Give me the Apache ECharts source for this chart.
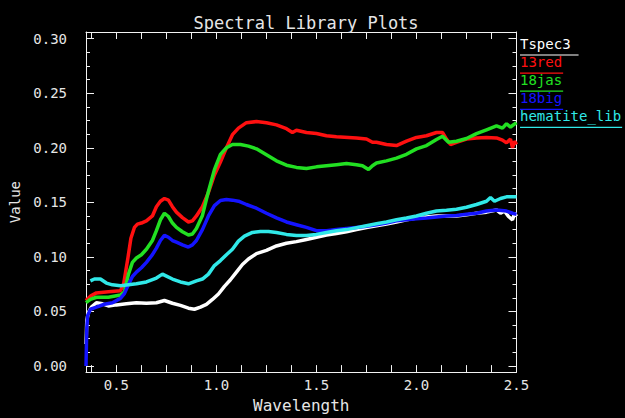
<!DOCTYPE html>
<html>
<head>
<meta charset="utf-8">
<script src="https://cdn.jsdelivr.net/npm/echarts@6/dist/echarts.min.js"></script>
<style>
  html, body { margin: 0; padding: 0; background: #000; }
  #chart { width: 625px; height: 418px; }
</style>
</head>
<body>
<div id="chart"></div>
<script>
// ---- axis ranges and ticks ----
const X_MIN = 0.348, X_MAX = 2.5;
const Y_MIN = -0.0056, Y_MAX = 0.3061;
const xMajorTicks = [0.5, 1.0, 1.5, 2.0, 2.5];
const xMinorTicks = [0.375, 0.625, 0.75, 0.875, 1.125, 1.25, 1.375, 1.625, 1.75, 1.875, 2.125, 2.25, 2.375];
const yMajorTicks = [0.00, 0.05, 0.10, 0.15, 0.20, 0.25, 0.30];
const yMinorTicks = [0.0125, 0.025, 0.0375, 0.0625, 0.075, 0.0875, 0.1125, 0.125, 0.1375,
  0.1625, 0.175, 0.1875, 0.2125, 0.225, 0.2375, 0.2625, 0.275, 0.2875];

// ---- spectra ----
const seriesNames = ['Tspec3', '13red', '18jas', '18big', 'hematite_lib'];
const seriesColors = ['#ffffff', '#ff1010', '#22e022', '#1414ff', '#30e8e8'];

const tspec3Wl = [0.348, 0.350, 0.352, 0.36, 0.375, 0.40, 0.43, 0.46, 0.50, 0.55, 0.60, 0.65, 0.70, 0.74,
  0.78, 0.82, 0.86, 0.89, 0.92, 0.95, 0.98, 1.01, 1.04, 1.07, 1.10, 1.13, 1.16, 1.20, 1.25, 1.30, 1.35,
  1.40, 1.45, 1.50, 1.55, 1.60, 1.65, 1.70, 1.75, 1.80, 1.85, 1.90, 1.95, 2.00, 2.05, 2.10, 2.15, 2.20,
  2.25, 2.30, 2.35, 2.40, 2.42, 2.44, 2.46, 2.48, 2.49, 2.50];
const tspec3Val = [0.020, 0.030, 0.042, 0.049, 0.054, 0.058, 0.057, 0.055, 0.056, 0.057, 0.058, 0.0575,
  0.058, 0.060, 0.0575, 0.0555, 0.053, 0.052, 0.054, 0.0565, 0.061, 0.066, 0.073, 0.079, 0.086, 0.093,
  0.098, 0.103, 0.106, 0.110, 0.1125, 0.114, 0.116, 0.118, 0.120, 0.1215, 0.123, 0.125, 0.127, 0.1285,
  0.130, 0.132, 0.134, 0.1355, 0.1365, 0.1375, 0.1375, 0.1375, 0.1385, 0.140, 0.141, 0.143, 0.140,
  0.142, 0.137, 0.134, 0.140, 0.137];

const red13Wl = [0.348, 0.37, 0.40, 0.46, 0.52, 0.535, 0.5575, 0.5725, 0.59, 0.605, 0.625, 0.65, 0.68,
  0.70, 0.72, 0.74, 0.76, 0.78, 0.80, 0.83, 0.86, 0.88, 0.90, 0.93, 0.96, 0.99, 1.02, 1.05, 1.08, 1.11,
  1.15, 1.20, 1.25, 1.30, 1.35, 1.38, 1.40, 1.45, 1.50, 1.55, 1.60, 1.70, 1.75, 1.78, 1.80, 1.85, 1.90,
  1.95, 2.00, 2.05, 2.10, 2.13, 2.15, 2.17, 2.20, 2.25, 2.30, 2.35, 2.40, 2.43, 2.45, 2.47, 2.48, 2.49, 2.50];
const red13Val = [0.060, 0.064, 0.067, 0.068, 0.069, 0.074, 0.099, 0.117, 0.127, 0.130, 0.131, 0.133,
  0.1375, 0.146, 0.151, 0.1535, 0.152, 0.146, 0.141, 0.136, 0.132, 0.133, 0.1375, 0.146, 0.159, 0.175,
  0.187, 0.200, 0.212, 0.218, 0.223, 0.224, 0.223, 0.221, 0.2175, 0.214, 0.216, 0.214, 0.213, 0.211,
  0.210, 0.209, 0.208, 0.205, 0.205, 0.203, 0.202, 0.206, 0.2095, 0.211, 0.214, 0.214, 0.208, 0.203,
  0.205, 0.208, 0.209, 0.2095, 0.209, 0.207, 0.2045, 0.208, 0.200, 0.206, 0.203];

const jas18Wl = [0.348, 0.37, 0.40, 0.46, 0.52, 0.54, 0.56, 0.58, 0.60, 0.625, 0.65, 0.68, 0.70, 0.72,
  0.74, 0.76, 0.78, 0.80, 0.83, 0.86, 0.88, 0.90, 0.93, 0.96, 0.99, 1.02, 1.05, 1.08, 1.12, 1.16, 1.20,
  1.25, 1.30, 1.35, 1.40, 1.45, 1.50, 1.55, 1.60, 1.65, 1.70, 1.73, 1.76, 1.78, 1.80, 1.85, 1.90, 1.95,
  2.00, 2.05, 2.10, 2.13, 2.16, 2.20, 2.25, 2.30, 2.35, 2.40, 2.43, 2.45, 2.47, 2.50];
const jas18Val = [0.058, 0.061, 0.063, 0.063, 0.065, 0.068, 0.084, 0.095, 0.099, 0.102, 0.107, 0.115,
  0.124, 0.134, 0.140, 0.137, 0.131, 0.127, 0.123, 0.120, 0.121, 0.126, 0.138, 0.160, 0.180, 0.194,
  0.200, 0.203, 0.203, 0.2015, 0.199, 0.1935, 0.188, 0.184, 0.182, 0.181, 0.1825, 0.1835, 0.1845,
  0.1855, 0.1845, 0.1835, 0.180, 0.1835, 0.186, 0.188, 0.1905, 0.194, 0.199, 0.202, 0.2075, 0.2105,
  0.205, 0.206, 0.2085, 0.213, 0.2165, 0.220, 0.218, 0.222, 0.219, 0.223];

const big18Wl = [0.348, 0.352, 0.356, 0.37, 0.40, 0.44, 0.48, 0.52, 0.54, 0.56, 0.58, 0.60, 0.625, 0.65,
  0.68, 0.70, 0.72, 0.74, 0.76, 0.78, 0.80, 0.83, 0.86, 0.88, 0.90, 0.93, 0.96, 0.99, 1.02, 1.05, 1.08,
  1.11, 1.15, 1.20, 1.25, 1.30, 1.35, 1.40, 1.45, 1.50, 1.55, 1.60, 1.65, 1.70, 1.75, 1.80, 1.85, 1.90,
  1.95, 2.00, 2.05, 2.10, 2.15, 2.20, 2.25, 2.30, 2.35, 2.40, 2.45, 2.48, 2.50];
const big18Val = [0.000, 0.035, 0.046, 0.052, 0.054, 0.0566, 0.058, 0.062, 0.0664, 0.0744, 0.082, 0.086,
  0.090, 0.095, 0.102, 0.108, 0.115, 0.1197, 0.118, 0.115, 0.1135, 0.111, 0.109, 0.111, 0.115, 0.125,
  0.1375, 0.147, 0.1517, 0.1526, 0.152, 0.151, 0.148, 0.1446, 0.140, 0.1357, 0.132, 0.1295, 0.127,
  0.124, 0.124, 0.125, 0.126, 0.127, 0.128, 0.1295, 0.131, 0.133, 0.134, 0.135, 0.1357, 0.1366, 0.1375,
  0.138, 0.139, 0.140, 0.142, 0.143, 0.142, 0.140, 0.139];

const hematiteWl = [0.37, 0.39, 0.42, 0.45, 0.48, 0.52, 0.56, 0.60, 0.65, 0.70, 0.73, 0.75, 0.78, 0.82,
  0.86, 0.90, 0.93, 0.96, 0.99, 1.02, 1.05, 1.08, 1.11, 1.14, 1.18, 1.22, 1.26, 1.30, 1.35, 1.40, 1.45,
  1.50, 1.55, 1.60, 1.65, 1.70, 1.75, 1.80, 1.85, 1.90, 1.95, 2.00, 2.05, 2.10, 2.15, 2.20, 2.25, 2.30,
  2.35, 2.37, 2.39, 2.42, 2.45, 2.50];
const hematiteVal = [0.078, 0.0797, 0.0797, 0.076, 0.0744, 0.0735, 0.0744, 0.0753, 0.077, 0.0806,
  0.0842, 0.0824, 0.0797, 0.077, 0.0753, 0.078, 0.0797, 0.0842, 0.092, 0.0966, 0.102, 0.107, 0.1144,
  0.119, 0.1224, 0.1233, 0.1233, 0.1224, 0.1206, 0.1197, 0.1197, 0.1206, 0.1224, 0.124, 0.125, 0.1268,
  0.1286, 0.1304, 0.132, 0.134, 0.1357, 0.1375, 0.140, 0.142, 0.1428, 0.1437, 0.1455, 0.148, 0.151,
  0.1544, 0.151, 0.1535, 0.155, 0.155];

const spectra = [
  [tspec3Wl, tspec3Val],
  [red13Wl, red13Val],
  [jas18Wl, jas18Val],
  [big18Wl, big18Val],
  [hematiteWl, hematiteVal]
];

// ---- styling ----
const FONT = '"DejaVu Sans Mono", monospace';
const TEXT_COLOR = '#e6e6e6';
const AXIS_COLOR = '#f2f2f2';
const GRID = { left: 86, right: 108.5, top: 32, bottom: 35 };

function pairUp(xs, ys) {
  return xs.map((x, i) => [x, ys[i]]);
}

function axisBase(kind, pos, ticks, tickLen, showLine) {
  const isX = kind === 'x';
  return {
    type: 'value',
    position: pos,
    min: isX ? X_MIN : Y_MIN,
    max: isX ? X_MAX : Y_MAX,
    axisLine: { show: showLine, onZero: false, lineStyle: { color: AXIS_COLOR, width: 1 } },
    axisTick: { show: true, inside: true, length: tickLen, customValues: ticks,
      lineStyle: { color: AXIS_COLOR, width: 1 } },
    axisLabel: { show: false },
    splitLine: { show: false }
  };
}

const xBottom = axisBase('x', 'bottom', xMajorTicks, 7, true);
xBottom.axisLabel = {
  show: true, customValues: xMajorTicks, margin: 6,
  formatter: v => v.toFixed(1), color: TEXT_COLOR, fontFamily: FONT, fontSize: 14
};
xBottom.name = 'Wavelength';
xBottom.nameLocation = 'middle';
xBottom.nameGap = 17;
xBottom.nameTextStyle = { color: TEXT_COLOR, fontFamily: FONT, fontSize: 16, verticalAlign: 'top' };

const yLeft = axisBase('y', 'left', yMajorTicks, 8, true);
yLeft.axisLabel = {
  show: true, customValues: yMajorTicks, margin: 19,
  formatter: v => v.toFixed(2), color: TEXT_COLOR, fontFamily: FONT, fontSize: 14
};
yLeft.name = 'Value';
yLeft.nameLocation = 'middle';
yLeft.nameGap = 60;
yLeft.nameRotate = 90;
yLeft.nameTextStyle = { color: TEXT_COLOR, fontFamily: FONT, fontSize: 14 };

const xAxes = [
  xBottom,
  axisBase('x', 'bottom', xMinorTicks, 7, false),
  axisBase('x', 'top', xMajorTicks, 7, true),
  axisBase('x', 'top', xMinorTicks, 7, false)
];
const yAxes = [
  yLeft,
  axisBase('y', 'left', yMinorTicks, 4, false),
  axisBase('y', 'right', yMajorTicks, 8, true),
  axisBase('y', 'right', yMinorTicks, 4, false)
];

const series = seriesNames.map((name, i) => ({
  name: name,
  type: 'line',
  xAxisIndex: 0,
  yAxisIndex: 0,
  data: pairUp(spectra[i][0], spectra[i][1]),
  showSymbol: false,
  smooth: false,
  clip: true,
  color: seriesColors[i],
  lineStyle: { width: 3.5, color: seriesColors[i] },
  z: 2 + i
}));

// underlined labels stacked beside the plot box
const measureCtx = document.createElement('canvas').getContext('2d');
const LEGEND_FONT_SIZE = 14;
measureCtx.font = LEGEND_FONT_SIZE + 'px ' + FONT;
const legendX = 520, legendTop = 44, legendStep = 18.1;
const legendItems = [];
seriesNames.forEach((name, i) => {
  const cy = legendTop + i * legendStep;
  const w = measureCtx.measureText(name).width;
  legendItems.push({
    type: 'text', x: legendX, y: cy,
    style: { text: name, fill: seriesColors[i], fontFamily: FONT, fontSize: LEGEND_FONT_SIZE,
      align: 'left', verticalAlign: 'middle' }
  });
  legendItems.push({
    type: 'line',
    shape: { x1: legendX, y1: cy + 11, x2: legendX + w + (i === 0 ? 8 : 1), y2: cy + 11 },
    style: { stroke: seriesColors[i], lineWidth: 1.2 }
  });
});

const chart = echarts.init(document.getElementById('chart'), null, { renderer: 'svg' });
chart.setOption({
  animation: false,
  backgroundColor: '#000',
  title: {
    text: 'Spectral Library Plots',
    left: 301, top: 9, textAlign: 'center',
    textStyle: { color: TEXT_COLOR, fontFamily: FONT, fontSize: 17, fontWeight: 'normal' }
  },
  grid: GRID,
  xAxis: xAxes,
  yAxis: yAxes,
  series: series,
  graphic: legendItems
});
</script>
</body>
</html>
